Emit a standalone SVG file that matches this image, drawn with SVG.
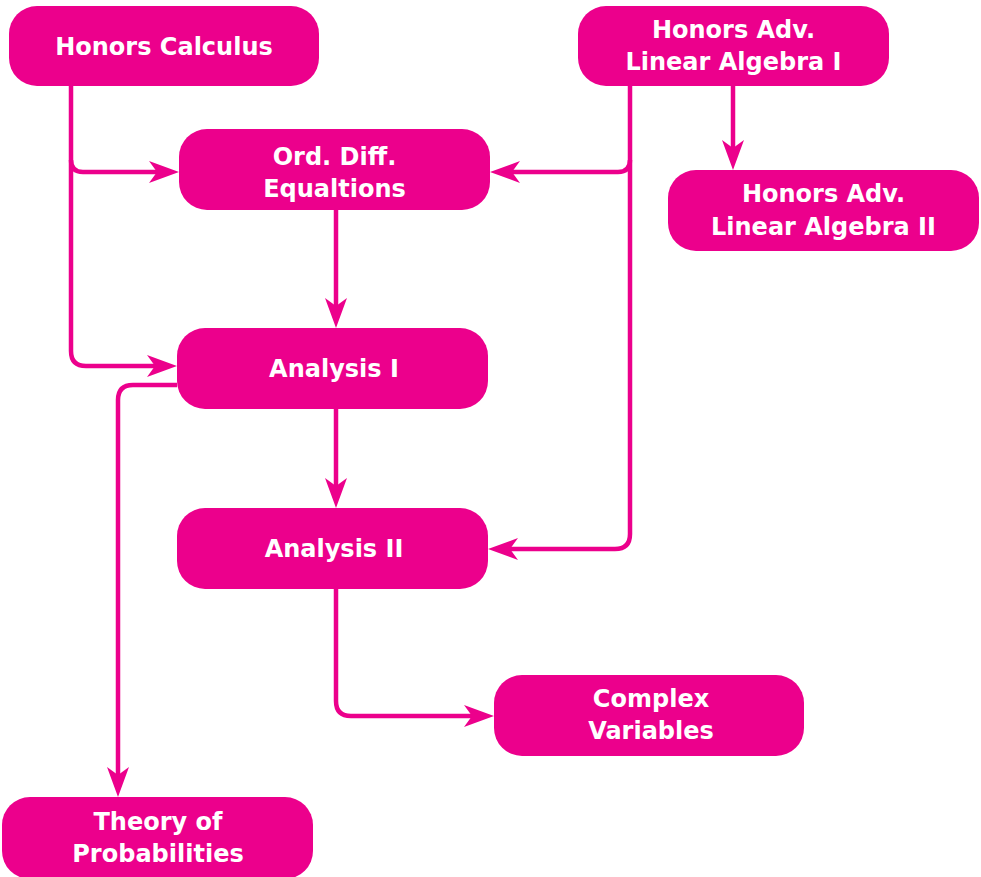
<svg xmlns="http://www.w3.org/2000/svg" width="981" height="877" viewBox="0 0 981 877">
<style>
.box{fill:#EC008C}
.lbl{fill:#fff;font-family:"DejaVu Sans","Liberation Sans",sans-serif;font-weight:bold;font-size:24px;text-anchor:middle}
.edge{fill:none;stroke:#EC008C;stroke-width:4.5;marker-end:url(#ah)}
</style>
<defs>
<marker id="ah" markerUnits="userSpaceOnUse" viewBox="0 0 30 22" refX="8" refY="11" markerWidth="30" markerHeight="22" orient="auto">
<path d="M0,0 L30,11 L0,22 L8,11 Z" fill="#EC008C"/>
</marker>
</defs>
<g id="connectors">
<path class="edge" d="M71,86 V351 Q71,366 86,366 H155"/>
<path class="edge" d="M71,160 Q71,172 83,172 H157"/>
<path class="edge" d="M630,86 V534 Q630,549 615,549 H510"/>
<path class="edge" d="M630,160 Q630,172 618,172 H512"/>
<path class="edge" d="M733,86 V148"/>
<path class="edge" d="M336,210 V306"/>
<path class="edge" d="M336,409 V486"/>
<path class="edge" d="M336,589 V701 Q336,716 351,716 H472"/>
<path class="edge" d="M177,385 H133 Q118,385 118,400 V775"/>
</g>
<g id="honors-calculus">
<rect class="box" x="9" y="6" width="310" height="80" rx="28"/>
<text class="lbl" x="164" y="55">Honors Calculus</text>
</g>
<g id="honors-adv-la-1">
<rect class="box" x="578" y="6" width="311" height="80" rx="28"/>
<text class="lbl" x="733.5" y="37.5">Honors Adv.</text>
<text class="lbl" x="733.5" y="70">Linear Algebra I</text>
</g>
<g id="honors-adv-la-2">
<rect class="box" x="668" y="170" width="311" height="81" rx="28"/>
<text class="lbl" x="823.5" y="202">Honors Adv.</text>
<text class="lbl" x="823.5" y="234.5">Linear Algebra II</text>
</g>
<g id="ord-diff-eq">
<rect class="box" x="179" y="129" width="311" height="81" rx="28"/>
<text class="lbl" x="334.5" y="165">Ord. Diff.</text>
<text class="lbl" x="334.5" y="197">Equaltions</text>
</g>
<g id="analysis-1">
<rect class="box" x="177" y="328" width="311" height="81" rx="28"/>
<text class="lbl" x="334" y="377">Analysis I</text>
</g>
<g id="analysis-2">
<rect class="box" x="177" y="508" width="311" height="81" rx="28"/>
<text class="lbl" x="334" y="557">Analysis II</text>
</g>
<g id="complex-variables">
<rect class="box" x="494" y="675" width="310" height="81" rx="28"/>
<text class="lbl" x="651" y="707">Complex</text>
<text class="lbl" x="651" y="739">Variables</text>
</g>
<g id="theory-of-probabilities">
<rect class="box" x="2" y="797" width="311" height="82" rx="28"/>
<text class="lbl" x="158" y="830">Theory of</text>
<text class="lbl" x="158" y="862">Probabilities</text>
</g>
</svg>
